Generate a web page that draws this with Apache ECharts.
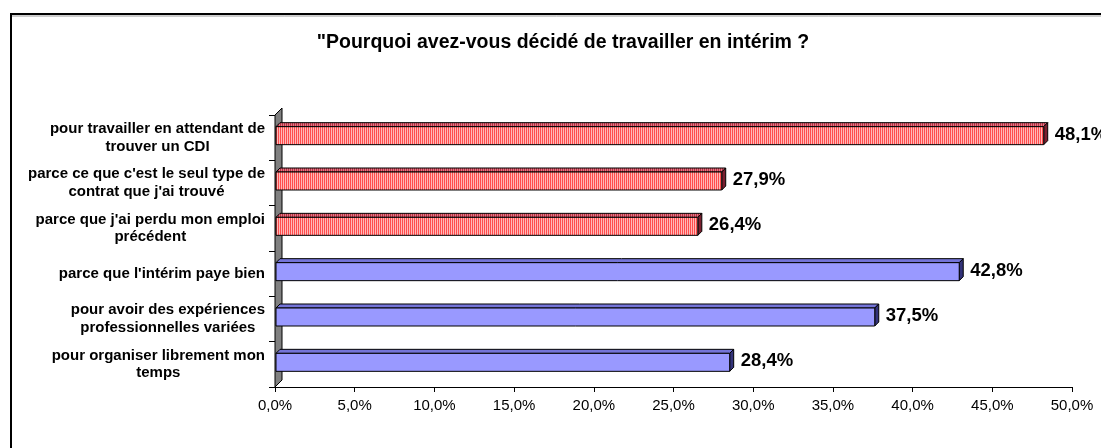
<!DOCTYPE html>
<html>
<head>
<meta charset="utf-8">
<script src="https://cdn.jsdelivr.net/npm/echarts@6/dist/echarts.min.js"></script>
<style>
  html, body { margin: 0; padding: 0; background: #fff; }
  #chart { width: 1101px; height: 448px; }
</style>
</head>
<body>
<div id="chart"></div>
<script>
// Reasons for choosing temporary work (share of respondents, %)
const titleText = '"Pourquoi avez-vous décidé de travailler en intérim ?';
const categories = [
  "pour travailler en attendant de\ntrouver un CDI",
  "parce ce que c'est le seul type de\ncontrat que j'ai trouvé",
  "parce que j'ai perdu mon emploi\nprécédent",
  "parce que l'intérim paye bien",
  "pour avoir des expériences\nprofessionnelles variées",
  "pour organiser librement mon\ntemps"
];
const values = [48.1, 27.9, 26.4, 42.8, 37.5, 28.4];
// 0 = constrained choice (striped red), 1 = chosen (blue)
const groups = [0, 0, 0, 1, 1, 1];
const axisMax = 50;
const axisStep = 5;

const FONT = '"Liberation Sans", Arial, sans-serif';
const fmt = v => v.toFixed(1).replace('.', ',') + '%';

// vertical stripe fill for the red bars
function stripes(a, b) {
  const c = document.createElement('canvas');
  c.width = 2; c.height = 4;
  const g = c.getContext('2d');
  g.fillStyle = a; g.fillRect(0, 0, 1, 4);
  g.fillStyle = b; g.fillRect(1, 0, 1, 4);
  return { image: c, repeat: 'repeat' };
}
const palette = [
  { front: stripes('#ff4d4d', '#ffb8b8'), top: stripes('#b83040', '#e07888'), side: '#7a2030' },
  { front: '#9999ff', top: '#7474d8', side: '#33337a' }
];

const chart = echarts.init(document.getElementById('chart'), null, { renderer: 'canvas' });

const GRID = { left: 275, right: 29, top: 115, bottom: 61 };
// depth of the extruded bars
const DX = 4, DY = 4, DEPTH_SHIFT = 2;

chart.setOption({
  animation: false,
  title: {
    text: titleText,
    left: 558, top: 28, textAlign: 'center',
    textStyle: { fontFamily: FONT, fontWeight: 'bold', fontSize: 19.5, color: '#000' }
  },
  grid: GRID,
  xAxis: {
    type: 'value', min: 0, max: axisMax, interval: axisStep,
    axisLine: { show: true, lineStyle: { color: '#000', width: 1 } },
    axisTick: { show: true, length: 5, lineStyle: { color: '#000' } },
    splitLine: { show: false },
    axisLabel: { formatter: fmt, margin: 11, fontFamily: FONT, fontSize: 15, color: '#000' }
  },
  yAxis: {
    type: 'category', data: categories, inverse: true,
    axisLine: { show: true, lineStyle: { color: '#000', width: 1 } },
    axisTick: { show: true, length: 6, lineStyle: { color: '#000' } },
    axisLabel: {
      margin: 10, align: 'right',
      // each line centred inside the block of the widest line
      formatter: s => s.split('\n').map(l => '{c|' + l + '}').join('\n'),
      rich: {
        c: { align: 'center', fontFamily: FONT, fontWeight: 'bold', fontSize: 15,
             lineHeight: 17.5, color: '#000' }
      }
    }
  },
  series: [{
    type: 'custom',
    z: 5,
    data: values.map((v, i) => [v, i, groups[i]]),
    encode: { x: 0, y: 1 },
    renderItem: function (params, api) {
      const v = api.value(0), idx = api.value(1), g = api.value(2);
      const base = api.coord([0, idx]);
      const end = api.coord([v, idx]);
      const x0 = base[0] + 1, xe = end[0] + DEPTH_SHIFT, yc = end[1];
      const yt = yc - 11, yb = yc + 7;
      const col = palette[g];
      const stroke = { stroke: '#000', lineWidth: 1 };
      return {
        type: 'group',
        children: [
          { type: 'polygon', shape: { points: [[x0, yt], [x0 + DX, yt - DY], [xe + DX, yt - DY], [xe, yt]] },
            style: Object.assign({ fill: col.top }, stroke) },
          { type: 'polygon', shape: { points: [[xe, yt], [xe + DX, yt - DY], [xe + DX, yb - DY], [xe, yb]] },
            style: Object.assign({ fill: col.side }, stroke) },
          { type: 'rect', shape: { x: x0, y: yt, width: xe - x0, height: yb - yt },
            style: Object.assign({ fill: col.front }, stroke) },
          { type: 'text', x: xe + DX + 7, y: yc - 3,
            style: { text: fmt(v), fontFamily: FONT, fontWeight: 'bold', fontSize: 18.5,
                     fill: '#000', verticalAlign: 'middle', align: 'left' } }
        ]
      };
    }
  }]
});

// left side wall of the 3D plot and the outer frame
const H = 448;
const wx = GRID.left, wTop = GRID.top, wBot = H - GRID.bottom, D = 7;
chart.setOption({
  graphic: [
    { type: 'rect', z: 0, shape: { x: 11, y: 14, width: 1200, height: 500 },
      style: { fill: 'none', stroke: '#000', lineWidth: 2 } },
    { type: 'polyline', z: 0, shape: { points: [[12, 16], [1101, 16]] },
      style: { stroke: '#9a9a9a', lineWidth: 1 } },
    { type: 'polygon', z: 1,
      shape: { points: [[wx, wTop], [wx + D, wTop - D], [wx + D, wBot - D], [wx, wBot]] },
      style: { fill: '#808080', stroke: '#000', lineWidth: 1 } }
  ]
});
</script>
</body>
</html>
